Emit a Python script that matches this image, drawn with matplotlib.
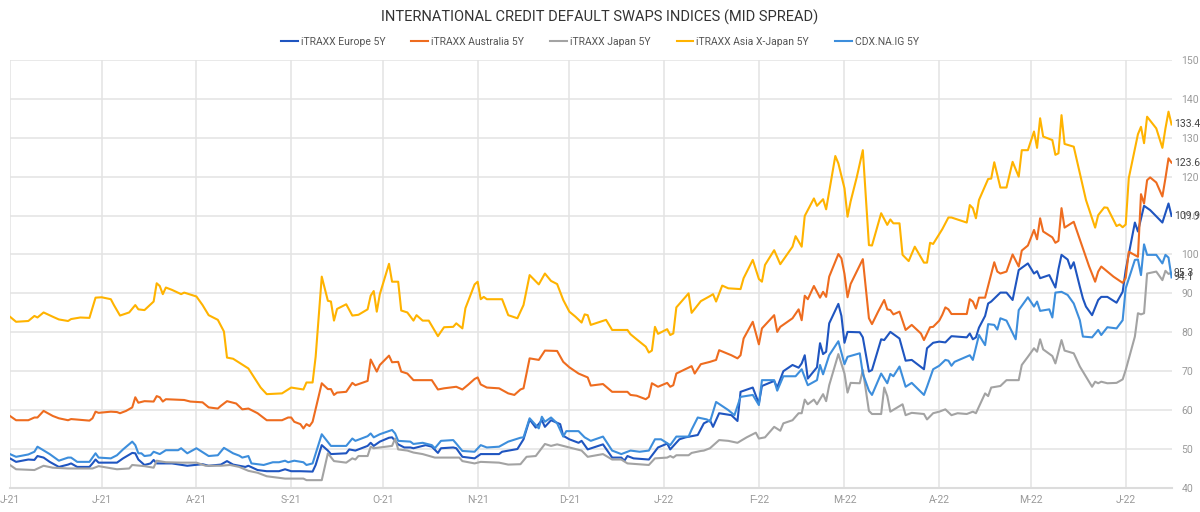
import matplotlib
matplotlib.use("Agg")
import matplotlib.pyplot as plt
import pandas as pd

plt.rcParams['font.family'] = ['Roboto', 'DejaVu Sans']

# data: day offsets from 1 Jun 2021 and mid spread (bp)
start = pd.Timestamp('2021-06-01')

europe_days = [0, 2, 6, 8, 9, 11, 13, 16, 19, 20, 22, 26, 27, 28, 29, 35, 37, 40, 41, 42, 44, 46, 47, 48, 53, 58, 63, 65, 69, 71, 73, 75, 77, 78, 81, 84, 88, 90, 92, 95, 99, 100, 102, 104, 105, 110, 111, 113, 117, 118, 119, 121, 124, 125, 127, 129, 131, 132, 136, 138, 140, 141, 145, 146, 148, 152, 154, 160, 161, 166, 168, 170, 172, 174, 175, 177, 180, 181, 183, 186, 187, 189, 194, 197, 200, 201, 202, 204, 209, 212, 215, 216, 219, 221, 225, 227, 229, 230, 232, 236, 238, 239, 243, 245, 246, 250, 251, 253, 256, 258, 259, 260, 261, 264, 265, 266, 267, 268, 271, 272, 273, 274, 278, 279, 281, 282, 285, 286, 288, 291, 293, 295, 299, 300, 302, 304, 306, 307, 308, 313, 314, 315, 316, 317, 319, 320, 321, 324, 326, 328, 330, 333, 335, 336, 337, 340, 342, 343, 344, 346, 347, 348, 350, 351, 352, 354, 356, 357, 359, 362, 364, 365, 368, 369, 371, 373, 377, 379, 380]
europe_vals = [47.6, 46.7, 47.3, 47.2, 48.2, 47.8, 46.7, 45.4, 46.0, 46.3, 45.4, 45.4, 46.3, 47.3, 46.5, 46.5, 47.6, 49.0, 48.9, 47.3, 45.9, 46.3, 47.2, 46.3, 46.3, 45.7, 46.1, 45.7, 46.0, 46.9, 46.0, 45.7, 45.4, 45.7, 44.6, 44.3, 44.3, 44.8, 44.3, 44.3, 44.2, 45.9, 51.0, 49.6, 48.7, 48.9, 49.9, 49.6, 50.8, 51.6, 50.8, 51.9, 52.9, 53.0, 51.2, 50.4, 50.4, 50.2, 51.0, 50.6, 49.0, 50.2, 50.4, 50.2, 48.0, 47.6, 48.7, 48.7, 49.3, 50.0, 52.5, 57.6, 55.5, 57.4, 55.7, 57.4, 56.4, 53.4, 52.5, 51.6, 52.1, 49.9, 51.2, 47.8, 47.8, 47.0, 48.2, 47.6, 47.3, 50.4, 51.4, 49.9, 52.5, 53.0, 53.6, 56.6, 57.4, 55.7, 59.2, 58.7, 57.2, 64.7, 65.8, 61.7, 66.2, 67.5, 65.8, 70.0, 71.6, 70.9, 72.0, 74.1, 68.1, 71.0, 77.2, 74.4, 75.0, 82.3, 87.3, 84.2, 77.3, 80.1, 80.0, 78.7, 69.9, 70.3, 78.2, 78.0, 80.1, 78.4, 72.7, 72.9, 70.5, 75.9, 77.3, 77.6, 77.4, 78.2, 79.0, 78.7, 79.7, 78.2, 78.7, 81.2, 84.2, 87.4, 87.9, 90.2, 90.2, 88.3, 96.0, 97.7, 95.1, 95.7, 93.9, 94.7, 91.5, 96.2, 99.9, 98.7, 96.4, 98.0, 91.7, 88.7, 86.6, 84.4, 88.3, 89.1, 89.1, 87.6, 90.4, 96.0, 108.2, 105.9, 112.5, 111.4, 108.2, 113.1, 109.9]

australia_days = [0, 2, 6, 8, 9, 11, 14, 16, 19, 20, 26, 27, 28, 29, 33, 35, 36, 38, 40, 41, 42, 44, 47, 48, 49, 50, 51, 57, 59, 63, 65, 68, 69, 71, 74, 76, 78, 81, 84, 89, 91, 92, 93, 95, 96, 97, 98, 99, 102, 104, 105, 106, 107, 110, 112, 113, 117, 118, 120, 121, 124, 125, 127, 128, 130, 132, 138, 140, 142, 146, 148, 150, 152, 153, 154, 156, 160, 163, 165, 167, 168, 170, 173, 175, 179, 181, 183, 186, 189, 190, 194, 197, 202, 203, 205, 208, 209, 210, 212, 215, 216, 217, 218, 223, 224, 226, 229, 231, 232, 236, 238, 239, 240, 243, 245, 246, 250, 251, 252, 256, 258, 259, 260, 261, 263, 265, 266, 267, 268, 271, 272, 273, 274, 275, 277, 279, 281, 282, 284, 286, 287, 288, 289, 291, 293, 295, 298, 299, 301, 302, 304, 305, 306, 307, 308, 313, 314, 315, 316, 317, 319, 322, 323, 324, 326, 328, 330, 331, 333, 335, 336, 337, 338, 341, 342, 343, 344, 345, 348, 351, 353, 355, 356, 357, 359, 361, 364, 365, 366, 369, 370, 371, 372, 373, 375, 377, 378, 379, 380]
australia_vals = [58.5, 57.4, 57.4, 58.1, 58.1, 59.8, 58.5, 57.9, 57.4, 57.7, 57.3, 57.9, 59.6, 59.3, 59.6, 59.5, 59.2, 59.8, 60.7, 63.3, 61.9, 62.3, 62.2, 63.6, 63.3, 62.2, 62.8, 62.6, 62.2, 62.0, 60.7, 60.4, 61.1, 62.3, 61.7, 60.2, 60.4, 59.2, 57.4, 57.4, 58.1, 58.1, 57.0, 56.4, 55.3, 56.4, 55.9, 57.0, 66.9, 65.4, 65.4, 63.9, 64.5, 64.7, 67.0, 66.4, 67.5, 73.0, 69.9, 71.6, 74.0, 72.3, 72.4, 69.9, 69.4, 67.7, 67.7, 65.3, 65.6, 66.0, 65.3, 66.6, 68.0, 68.4, 66.6, 65.8, 65.6, 64.3, 63.9, 65.3, 65.6, 73.3, 72.9, 75.3, 75.2, 72.4, 71.0, 69.4, 68.4, 66.3, 66.7, 64.7, 64.7, 63.9, 63.7, 62.8, 63.4, 66.9, 66.0, 67.0, 66.0, 66.4, 69.4, 71.3, 69.4, 71.8, 72.4, 72.9, 75.4, 74.1, 73.3, 74.1, 78.4, 82.7, 76.9, 81.0, 84.4, 80.1, 81.4, 83.6, 85.9, 83.1, 89.4, 88.5, 91.9, 88.9, 90.4, 89.1, 94.3, 100.1, 99.0, 95.0, 89.0, 92.4, 95.6, 98.8, 83.6, 82.1, 85.3, 88.3, 85.9, 85.7, 84.6, 85.3, 80.6, 81.9, 79.7, 78.0, 81.3, 81.4, 83.0, 84.5, 86.4, 85.9, 84.7, 84.7, 88.5, 87.9, 86.1, 88.9, 88.9, 98.0, 95.6, 95.1, 95.6, 100.0, 96.9, 101.0, 102.3, 106.3, 103.9, 109.3, 105.9, 104.4, 103.0, 103.5, 111.9, 106.9, 108.4, 101.6, 97.0, 93.0, 95.6, 96.9, 95.6, 94.3, 92.7, 94.0, 100.7, 99.4, 115.5, 113.1, 119.1, 119.8, 118.5, 114.9, 119.6, 124.7, 123.6]

japan_days = [0, 2, 8, 11, 14, 19, 23, 27, 29, 35, 39, 40, 44, 47, 48, 51, 56, 61, 64, 69, 72, 75, 78, 81, 84, 90, 96, 97, 102, 104, 106, 110, 112, 113, 114, 117, 118, 119, 121, 125, 126, 127, 130, 132, 135, 139, 142, 147, 148, 152, 154, 160, 163, 167, 169, 172, 175, 177, 179, 183, 187, 189, 194, 197, 200, 202, 209, 211, 215, 216, 217, 218, 222, 223, 226, 227, 229, 232, 235, 238, 241, 244, 245, 247, 250, 252, 253, 256, 258, 259, 260, 261, 263, 264, 266, 267, 268, 271, 273, 274, 275, 278, 279, 281, 282, 285, 286, 287, 288, 292, 293, 295, 299, 300, 302, 304, 306, 308, 310, 313, 315, 316, 319, 320, 321, 324, 326, 330, 331, 333, 335, 336, 337, 338, 341, 342, 344, 345, 348, 350, 352, 354, 355, 356, 357, 359, 362, 364, 365, 368, 369, 370, 371, 372, 375, 377, 378, 379, 380]
japan_vals = [45.9, 44.8, 44.6, 45.7, 45.2, 45.0, 45.0, 45.0, 45.6, 44.8, 45.0, 45.9, 45.6, 45.2, 47.0, 46.6, 46.5, 46.5, 45.7, 45.7, 45.9, 45.4, 44.4, 43.9, 43.0, 42.4, 42.4, 42.0, 42.0, 48.9, 46.9, 46.5, 47.6, 47.3, 48.2, 48.2, 50.6, 50.2, 50.4, 50.8, 52.7, 49.9, 49.6, 49.1, 48.7, 47.8, 47.8, 47.8, 46.9, 46.3, 46.7, 46.5, 46.0, 46.1, 48.0, 48.2, 51.3, 50.8, 51.2, 50.4, 49.6, 48.0, 48.7, 47.3, 47.3, 46.3, 45.9, 47.6, 47.8, 48.2, 47.8, 48.4, 48.4, 49.0, 49.5, 49.6, 50.2, 52.3, 52.1, 51.6, 53.0, 54.2, 52.7, 53.0, 55.7, 54.7, 56.6, 57.4, 59.2, 59.2, 62.7, 61.5, 62.7, 61.5, 64.1, 62.3, 66.4, 74.4, 69.4, 64.5, 67.0, 66.9, 70.3, 59.8, 59.0, 59.0, 65.8, 63.6, 59.6, 61.5, 58.7, 59.3, 59.0, 57.6, 59.2, 59.6, 60.2, 58.7, 59.2, 59.0, 59.6, 59.2, 64.3, 63.6, 65.8, 66.2, 67.7, 67.7, 71.6, 73.7, 75.9, 75.0, 78.2, 75.6, 73.9, 72.0, 78.0, 75.3, 74.6, 71.2, 68.6, 66.0, 67.3, 66.9, 67.3, 66.9, 67.0, 67.9, 70.3, 78.9, 84.9, 84.6, 84.9, 95.1, 95.6, 93.4, 95.8, 95.0, 95.3]

asia_days = [0, 2, 6, 8, 9, 11, 14, 16, 19, 20, 23, 26, 28, 30, 33, 34, 36, 39, 41, 42, 44, 47, 48, 49, 50, 51, 53, 56, 57, 61, 63, 65, 68, 70, 71, 73, 75, 78, 82, 84, 89, 92, 96, 97, 99, 100, 102, 104, 105, 106, 107, 110, 112, 114, 117, 118, 119, 120, 121, 124, 125, 127, 128, 130, 132, 133, 135, 137, 140, 142, 145, 146, 148, 149, 152, 153, 154, 155, 156, 161, 163, 166, 168, 170, 173, 175, 177, 179, 181, 183, 185, 187, 188, 189, 190, 195, 197, 202, 203, 205, 208, 209, 210, 211, 212, 215, 216, 217, 218, 222, 223, 226, 229, 230, 231, 233, 235, 239, 240, 243, 245, 246, 247, 250, 252, 256, 257, 259, 260, 263, 264, 266, 267, 270, 271, 273, 274, 275, 277, 279, 281, 282, 285, 287, 288, 289, 291, 292, 294, 296, 299, 300, 301, 302, 305, 307, 308, 313, 314, 315, 316, 317, 320, 321, 322, 324, 326, 328, 330, 331, 333, 335, 336, 337, 338, 341, 342, 343, 344, 345, 348, 351, 352, 355, 356, 358, 359, 362, 363, 364, 365, 366, 369, 370, 371, 372, 375, 377, 378, 379, 380]
asia_vals = [84.0, 82.7, 82.9, 84.2, 83.8, 85.1, 84.0, 83.3, 82.9, 83.4, 83.8, 83.7, 88.9, 89.0, 88.5, 87.0, 84.3, 85.1, 87.0, 85.9, 85.7, 87.9, 92.6, 91.9, 89.8, 91.5, 90.9, 89.8, 90.2, 89.2, 87.0, 84.4, 83.2, 80.2, 73.5, 73.2, 72.2, 70.7, 65.8, 64.1, 64.3, 65.8, 65.3, 67.1, 67.1, 73.7, 94.3, 88.1, 87.9, 83.0, 86.0, 87.2, 84.3, 84.5, 85.9, 89.4, 90.6, 85.3, 89.8, 97.6, 93.0, 93.0, 85.6, 85.1, 83.0, 84.4, 83.0, 83.0, 79.0, 81.3, 81.4, 82.3, 81.0, 86.2, 92.3, 93.0, 88.5, 89.1, 88.5, 88.5, 84.4, 83.6, 87.0, 94.7, 92.3, 95.1, 93.2, 92.4, 88.3, 85.3, 84.0, 82.5, 84.6, 84.4, 81.9, 83.2, 80.6, 80.6, 79.5, 78.2, 76.3, 74.8, 75.3, 81.4, 79.6, 80.8, 79.3, 79.7, 86.4, 90.0, 85.0, 88.0, 89.3, 89.8, 87.9, 92.0, 91.3, 91.1, 93.9, 98.6, 93.7, 93.0, 97.3, 101.1, 97.5, 102.0, 104.7, 102.0, 109.9, 114.4, 112.5, 114.2, 111.6, 125.3, 123.4, 117.0, 109.7, 113.6, 119.8, 126.8, 102.4, 102.3, 110.6, 107.6, 109.0, 108.0, 108.0, 99.9, 98.3, 102.0, 97.9, 97.9, 103.0, 102.7, 106.5, 109.5, 109.5, 108.2, 112.7, 111.9, 109.3, 114.0, 119.4, 119.5, 123.7, 117.2, 117.2, 123.8, 120.0, 126.8, 126.8, 131.6, 127.4, 135.0, 130.3, 129.4, 125.6, 126.0, 135.8, 128.4, 127.7, 117.4, 114.0, 106.9, 110.1, 112.1, 112.0, 107.3, 107.7, 107.0, 107.7, 119.6, 130.9, 132.8, 128.6, 135.4, 132.4, 127.4, 132.4, 136.7, 133.4]

cdx_days = [0, 2, 6, 8, 9, 13, 16, 19, 20, 22, 26, 28, 29, 33, 35, 37, 40, 41, 42, 43, 44, 46, 47, 49, 51, 55, 56, 58, 61, 65, 68, 70, 73, 75, 76, 78, 79, 83, 86, 88, 90, 91, 93, 96, 97, 99, 102, 105, 110, 112, 113, 117, 118, 119, 121, 125, 126, 127, 131, 132, 135, 138, 139, 141, 145, 146, 148, 152, 154, 156, 160, 163, 167, 168, 170, 173, 174, 175, 177, 179, 181, 182, 186, 188, 190, 194, 197, 200, 203, 206, 209, 211, 213, 216, 218, 222, 223, 225, 228, 229, 231, 235, 237, 239, 243, 245, 246, 250, 251, 253, 257, 259, 261, 264, 265, 266, 268, 271, 273, 274, 278, 279, 281, 282, 285, 287, 288, 289, 291, 293, 295, 299, 300, 302, 304, 306, 307, 308, 309, 314, 315, 317, 319, 320, 322, 323, 324, 326, 329, 330, 333, 335, 336, 337, 340, 341, 342, 344, 346, 348, 350, 351, 354, 356, 357, 359, 362, 364, 365, 368, 369, 370, 371, 372, 375, 377, 378, 379, 380]
cdx_vals = [48.7, 48.0, 48.6, 49.3, 50.6, 48.7, 47.0, 47.8, 47.8, 46.7, 46.7, 48.9, 47.8, 47.6, 48.4, 49.9, 51.9, 51.0, 48.9, 48.9, 48.2, 48.4, 49.3, 48.7, 49.7, 49.7, 50.2, 48.9, 50.2, 48.2, 48.4, 50.3, 48.9, 48.3, 47.8, 48.2, 46.3, 45.9, 46.6, 46.6, 47.0, 46.6, 47.0, 46.6, 45.9, 46.3, 53.8, 50.8, 50.8, 52.7, 52.1, 53.3, 54.0, 53.0, 53.8, 54.9, 54.0, 52.1, 51.9, 51.3, 51.6, 51.0, 50.2, 52.1, 52.3, 51.4, 49.5, 49.3, 51.0, 50.4, 50.6, 51.9, 52.9, 53.0, 57.9, 55.3, 58.3, 57.0, 58.1, 56.6, 53.2, 54.6, 54.6, 53.0, 52.1, 53.2, 49.6, 48.7, 49.6, 49.3, 49.6, 52.5, 52.5, 51.0, 53.2, 53.2, 55.0, 58.1, 57.6, 57.0, 62.1, 60.0, 58.7, 63.4, 63.9, 61.3, 67.7, 67.7, 65.0, 68.7, 68.7, 70.5, 66.4, 67.7, 71.6, 69.2, 74.1, 77.7, 71.8, 73.7, 74.6, 69.4, 65.0, 63.9, 69.4, 66.9, 69.3, 68.7, 71.2, 66.0, 67.0, 63.9, 66.0, 70.5, 71.4, 72.9, 72.7, 71.4, 72.4, 74.1, 72.9, 79.3, 76.7, 82.1, 81.9, 80.7, 83.6, 83.0, 78.2, 85.7, 89.0, 86.6, 87.9, 85.5, 85.9, 83.8, 90.2, 90.4, 89.6, 87.4, 83.1, 78.9, 78.7, 80.6, 79.3, 81.3, 81.0, 83.1, 91.3, 98.6, 98.7, 94.7, 102.6, 99.9, 99.9, 97.7, 99.9, 99.2, 94.1]

series_names = ['iTRAXX Europe 5Y', 'iTRAXX Australia 5Y', 'iTRAXX Japan 5Y',
                'iTRAXX Asia X-Japan 5Y', 'CDX.NA.IG 5Y']
series_colors = ['#1f55c0', '#ee6c1f', '#a3a3a3', '#ffb300', '#3d8edc']
end_labels = ['109.9', '123.6', '95.3', '133.4', '94.1']

month_labels = ['J-21', 'J-21', 'A-21', 'S-21', 'O-21', 'N-21', 'D-21',
                'J-22', 'F-22', 'M-22', 'A-22', 'M-22', 'J-22']

all_days = [europe_days, australia_days, japan_days, asia_days, cdx_days]
all_vals = [europe_vals, australia_vals, japan_vals, asia_vals, cdx_vals]

fig = plt.figure(figsize=(12, 5.12), dpi=100)
ax = fig.add_axes([0.0083, 0.047, 0.968, 0.836])

for days, vals, name, col in zip(all_days, all_vals, series_names, series_colors):
    dates = start + pd.to_timedelta(days, unit='D')
    ax.plot(dates, vals, color=col, lw=1.5, label=name, solid_joinstyle='round')

end_date = start + pd.Timedelta(days=380)
ax.set_xlim(start, end_date)
ax.set_ylim(40, 150)

# value tags at the right end
for vals, lab in zip(all_vals, end_labels):
    ax.annotate(lab, xy=(end_date, float(lab)), xytext=(1.5, 0), textcoords='offset points',
                va='center', ha='left', fontsize=7.5, color='#444444', annotation_clip=False)

ticks = pd.date_range('2021-06-01', '2022-06-01', freq='MS')
ax.set_xticks(ticks)
ax.set_xticklabels(month_labels)
ax.set_yticks(range(40, 151, 10))
ax.yaxis.tick_right()
ax.tick_params(axis='both', length=0, labelsize=7.5, labelcolor='#9a9a9a')
ax.tick_params(axis='x', pad=5)
ax.tick_params(axis='y', pad=7)

ax.grid(True, color='#e3e3e3', lw=1.1)
ax.set_axisbelow(True)
for s in ['top', 'right', 'left']:
    ax.spines[s].set_visible(False)
ax.spines['bottom'].set_color('#dcdcdc')
ax.spines['bottom'].set_linewidth(1.5)

fig.text(0.5, 0.966, 'INTERNATIONAL CREDIT DEFAULT SWAPS INDICES (MID SPREAD)',
         ha='center', va='center', fontsize=10.5, color='#333333')
fig.legend(loc='center', bbox_to_anchor=(0.5, 0.918), ncol=5, frameon=False,
           fontsize=7.5, handlelength=1.6, handletextpad=0.3, columnspacing=2.5,
           labelcolor='#555555')

fig.savefig('out.png', dpi=100)
